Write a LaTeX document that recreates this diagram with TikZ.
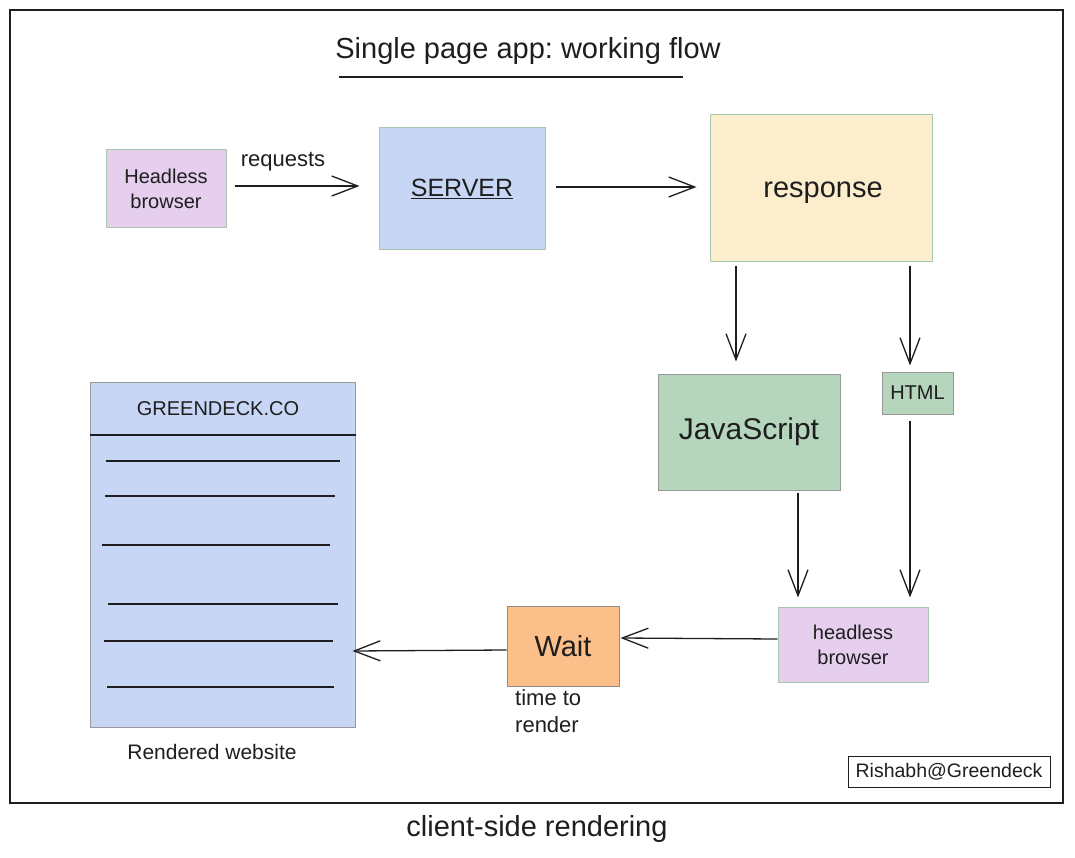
\documentclass[tikz,border=0pt]{standalone}
\usepackage{fontspec}
\setmainfont{Liberation Sans}
\usetikzlibrary{arrows.meta}
\frenchspacing
\definecolor{pinkbox}{HTML}{E6CFEE}
\definecolor{bluebox}{HTML}{C8D6F5}
\definecolor{yellowbox}{HTML}{FCEDCC}
\definecolor{greenbox}{HTML}{B5D5BD}
\definecolor{orangebox}{HTML}{FBBF89}
\definecolor{edgegreen}{HTML}{A9C7AE}
\definecolor{ink}{HTML}{1E1E1E}
\tikzset{
  box/.style={draw=edgegreen, line width=1pt, inner sep=0pt, align=center, text=ink},
  flow/.style={draw=ink, line width=1.3pt, -{Straight Barb[length=26pt,width=20pt,line width=1.3pt]}},
  lbl/.style={text=ink, inner sep=0pt},
  rule/.style={draw=ink, line width=1.1pt},
}
\newcommand{\fs}[1]{\fontsize{#1pt}{1.25\dimexpr #1pt\relax}\selectfont}
\begin{document}
\begin{tikzpicture}[x=1pt,y=-1pt]
\useasboundingbox (0,0) rectangle (1075,858);
% outer frame
\draw[ink, line width=1.3pt] (10,10) rectangle (1063,803);
% title
\node[lbl, font=\fs{29}] (title) at (528,51) {Single page app: working flow};
\draw[rule] (339,77) -- (683,77);
% top row
\node[box, fill=pinkbox, minimum width=120pt, minimum height=78pt, font=\fs{20}] (hb1) at (166,189) {Headless\\browser};
\node[box, fill=bluebox, minimum width=166pt, minimum height=122pt, font=\fs{25}] (server) at (462,189) {\underline{SERVER}};
\node[box, fill=yellowbox, minimum width=222pt, minimum height=147pt] (resp) at (821,188) {};
\node[lbl, font=\fs{29}] (resptext) at (823,193) {response};
% middle
\node[box, fill=greenbox, draw=gray!80, minimum width=182pt, minimum height=116pt, font=\fs{30}] (js) at (749,432) {JavaScript};
\node[box, fill=greenbox, draw=gray!80, minimum width=71pt, minimum height=42pt, font=\fs{20}] (html) at (917.5,393) {HTML};
% bottom
\node[box, fill=pinkbox, minimum width=150pt, minimum height=75pt, font=\fs{20}] (hb2) at (853,644.5) {headless\\browser};
\node[box, fill=orangebox, draw=gray!90, minimum width=112pt, minimum height=80pt, font=\fs{29}] (wait) at (563,646) {Wait};
\node[lbl, font=\fs{22}, align=left, anchor=north west] (ttr) at (515,689) {time to\\render};
% website
\node[box, fill=bluebox, draw=gray!80, minimum width=265pt, minimum height=345pt] (web) at (222.5,554.5) {};
\node[lbl, font=\fs{20}] (brand) at (218,409) {GREENDECK.CO};
\draw[rule] (web.west |- 0,435) coordinate (hl) -- (web.east |- 0,435);
\foreach \y/\a/\b in {461/106/340, 496/105/335, 545/102/330, 604/108/338, 641/104/333, 687/107/334}{
  \draw[rule] (\a,\y) -- (\b,\y);
}
\node[lbl, font=\fs{21}] (rw) at (212,752) {Rendered website};
% signature
\node[draw=ink, line width=1pt, minimum width=202pt, minimum height=31pt, inner sep=0pt, font=\fs{19.5}, text=ink] (sig) at (949,772) {Rishabh@Greendeck};
% caption
\node[lbl, font=\fs{29}] (cap) at (537,829) {client-side rendering};
% connectors
\coordinate (a1s) at (hb1.east |- 0,186);
\coordinate (a1e) at (server.west |- 0,186);
\draw[flow] ([xshift=8pt]a1s) -- ([xshift=-19pt]a1e);
\node[lbl, font=\fs{22}] (req) at (283,162) {requests};
\draw[flow] ([xshift=10pt]server.east |- 0,187) -- ([xshift=-13pt]resp.west |- 0,187);
\draw[flow] ([yshift=-4pt]resp.south -| 736,0) -- ([yshift=12pt]js.north -| 736,0);
\draw[flow] ([yshift=-4pt]resp.south -| 910,0) -- ([yshift=6pt]html.north -| 910,0);
\draw[flow] ([yshift=-2pt]js.south -| 798,0) -- ([yshift=9pt]hb2.north -| 798,0);
\draw[flow] ([yshift=-6pt]html.south -| 910,0) -- ([yshift=9pt]hb2.north -| 910,0);
\draw[flow] (hb2.west |- 0,639) -- ([xshift=1pt]wait.east |- 0,638);
\draw[flow] (wait.west |- 0,650) -- ([xshift=-3pt]web.east |- 0,651);
\end{tikzpicture}
\end{document}
